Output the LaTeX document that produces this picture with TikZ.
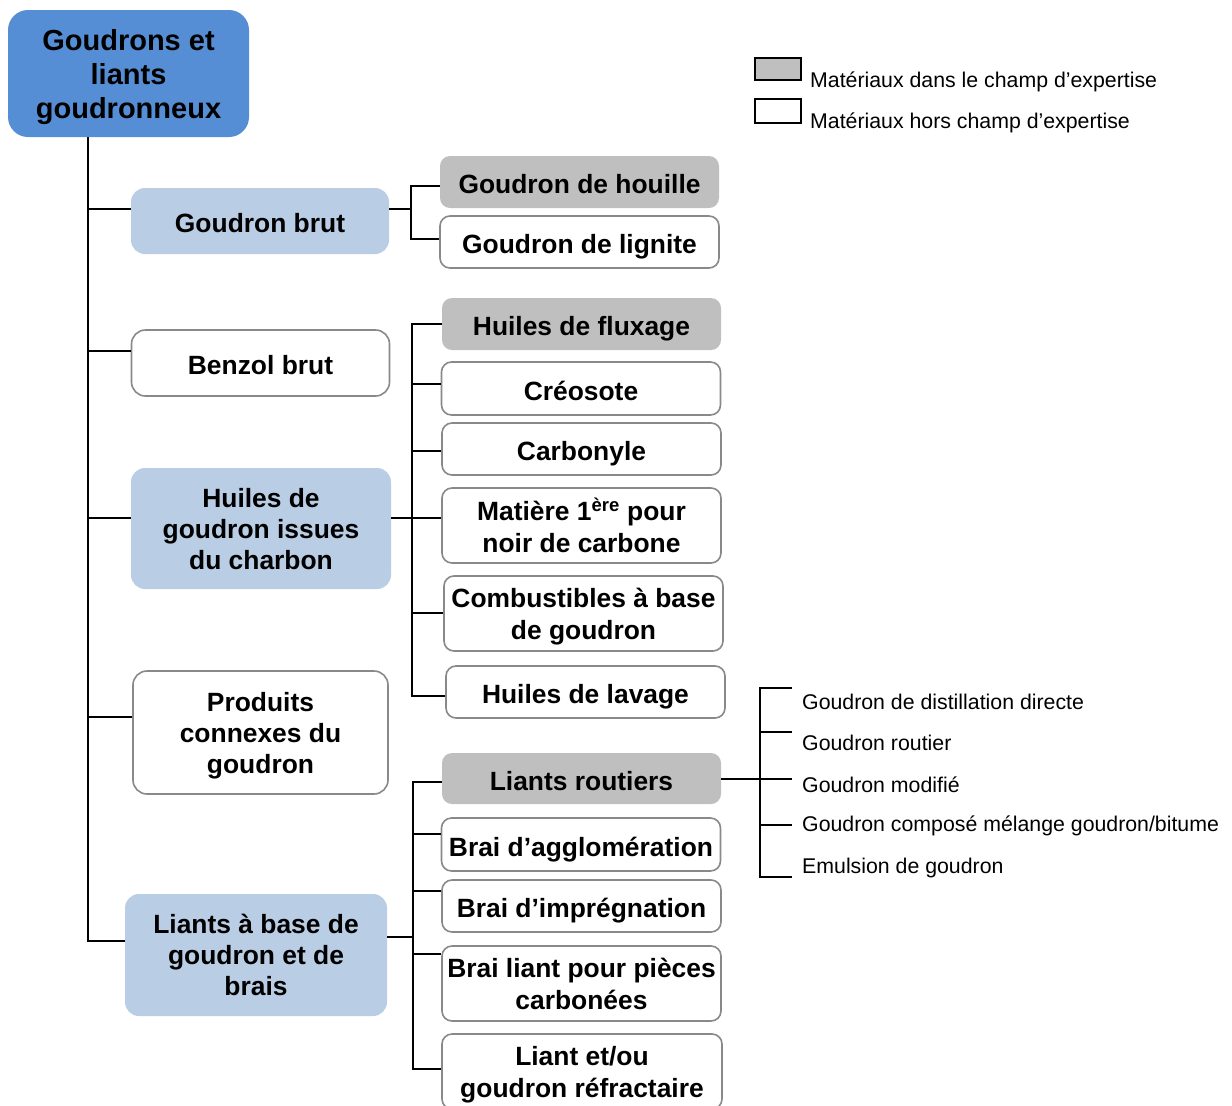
\documentclass[tikz,border=0pt]{standalone}
\usepackage{fontspec}
\setmainfont{Liberation Sans}
\usetikzlibrary{positioning}
\definecolor{rootblue}{HTML}{558ED5}
\definecolor{paleblue}{HTML}{B9CDE5}
\definecolor{boxgray}{HTML}{BFBFBF}
\definecolor{edgegray}{HTML}{898989}

\begin{document}
\begin{tikzpicture}[x=1pt, y=-1pt,
	rootbox/.style = {fill=rootblue, rounded corners=20pt, minimum width=241pt, minimum height=127pt, align=center, inner sep=0pt, font=\fontsize{29}{34}\selectfont\bfseries},
	lvlone/.style = {rounded corners=14pt, minimum width=258pt, minimum height=66pt, align=center, inner sep=0pt, text height=23.4pt, text depth=0pt, font=\fontsize{26.4}{31}\selectfont\bfseries},
	lvltwo/.style = {rounded corners=10pt, minimum width=279pt, minimum height=52pt, align=center, inner sep=0pt, text height=23.4pt, text depth=0pt, font=\fontsize{26.4}{32}\selectfont\bfseries},
	multi/.style = {text height=, text depth=#1},
	bluebox/.style = {fill=paleblue},
	greybox/.style = {fill=boxgray},
	plainbox/.style = {draw=edgegray, line width=1.6pt, fill=white},
	small/.style = {anchor=west, inner xsep=10pt, inner ysep=2pt, font=\fontsize{21.3}{24}\selectfont},
	legbox/.style = {draw=black, line width=1.5pt, minimum width=46pt, inner sep=0pt},
	conn/.style = {line width=2.2pt, black}]
	\useasboundingbox (0,0) rectangle (1232,1106);

	\node (root) [rootbox, text depth=-4pt] at (128.5,73.5) {Goudrons et\\liants\\goudronneux};

	\node (brut) [lvlone, bluebox] at (260,221) {Goudron brut};
	\node (benzol) [lvlone, plainbox] at (260.5,363) {Benzol brut};
	\node (huilesch) [lvlone, bluebox, multi=-6pt, minimum width=260pt, minimum height=121pt] at (261,528.5) {Huiles de\\goudron issues\\du charbon};
	\node (produits) [lvlone, plainbox, multi=0pt, minimum width=255pt, minimum height=123pt] at (260.5,732.5) {Produits\\connexes du\\goudron};
	\node (liants) [lvlone, bluebox, multi=, minimum width=262pt, minimum height=122pt] at (256,955) {Liants à base de\\goudron et de\\brais};

	\node (houille) [lvltwo, greybox] at (579.5,182) {Goudron de houille};
	\node (lignite) [lvltwo, plainbox] at (579.5,242) {Goudron de lignite};

	\node (fluxage) [lvltwo, greybox] at (581.5,324) {Huiles de fluxage};
	\node (creosote) [lvltwo, plainbox, minimum height=53pt] at (581,388.5) {Créosote};
	\node (carbonyle) [lvltwo, plainbox] at (581.5,449) {Carbonyle};
	\node (matiere) [lvltwo, plainbox, multi=, minimum height=75pt] at (581.5,525.5) {Matière 1\textsuperscript{ère} pour\\noir de carbone};
	\node (combust) [lvltwo, plainbox, multi=-6pt, minimum height=75pt] at (583.5,613.5) {Combustibles à base\\de goudron};
	\node (lavage) [lvltwo, plainbox] at (585.5,692) {Huiles de lavage};

	\node (routiers) [lvltwo, greybox, minimum height=51pt] at (581.5,778.5) {Liants routiers};
	\node (agglo) [lvltwo, plainbox, minimum height=53pt] at (581,844.5) {Brai d’agglomération};
	\node (impreg) [lvltwo, plainbox] at (581.5,906) {Brai d’imprégnation};
	\node (brailiant) [lvltwo, plainbox, multi=-6pt, minimum height=75pt] at (581.5,983.5) {Brai liant pour pièces\\carbonées};
	\node (refract) [lvltwo, plainbox, multi=0pt, minimum width=280pt, minimum height=75pt] at (582,1071.5) {Liant et/ou\\goudron réfractaire};

	\node (dist) [small] at (792,702) {Goudron de distillation directe};
	\node (routier) [small] at (792,743) {Goudron routier};
	\node (modif) [small] at (792,785) {Goudron modifié};
	\node (compose) [small] at (792,826) {Goudron composé mélange goudron/bitume};
	\node (emuls) [small] at (792,868) {Emulsion de goudron};

	\node (inbox) [legbox, fill=boxgray, minimum height=22pt] at (778,69) {};
	\node (outbox) [legbox, fill=white, minimum height=24pt] at (778,111) {};
	\node (intext) [small, inner xsep=0pt] at (810,82) {Matériaux dans le champ d’expertise};
	\node (outtext) [small, inner xsep=0pt] at (810,123) {Matériaux hors champ d’expertise};

	\coordinate (trunk) at (88,137);
	\coordinate (b1) at (411,209);
	\coordinate (b2) at (412,518);
	\coordinate (b3) at (413,937);
	\coordinate (b4) at (760,779);

	\foreach \n/\dy in {brut/12, benzol/12, huilesch/10.5, produits/15.5, liants/14}
		\draw[conn] ([yshift=\dy pt]\n.west) -| (trunk);

	\draw[conn] ([yshift=12pt]brut.east) -- (b1);
	\foreach \n/\dy in {houille/-4, lignite/3}
		\draw[conn] ([yshift=\dy pt]\n.west) -| (b1);

	\draw[conn] ([yshift=10.5pt]huilesch.east) -- (b2);
	\foreach \n/\dy in {fluxage/0, creosote/4.5, carbonyle/-2, matiere/7.5, combust/0.5, lavage/-4}
		\draw[conn] ([yshift=\dy pt]\n.west) -| (b2);

	\draw[conn] ([yshift=18pt]liants.east) -- (b3);
	\foreach \n/\dy in {routiers/-3.5, agglo/10.5, impreg/15, brailiant/29.5, refract/2.5}
		\draw[conn] ([yshift=\dy pt]\n.west) -| (b3);

	\draw[conn] ([yshift=-0.5pt]routiers.east) -- (b4);
	\foreach \n/\dy in {dist/14, routier/11, modif/6, compose/1, emuls/-9}
		\draw[conn] ([yshift=\dy pt]\n.west) -| (b4);
\end{tikzpicture}
\end{document}
